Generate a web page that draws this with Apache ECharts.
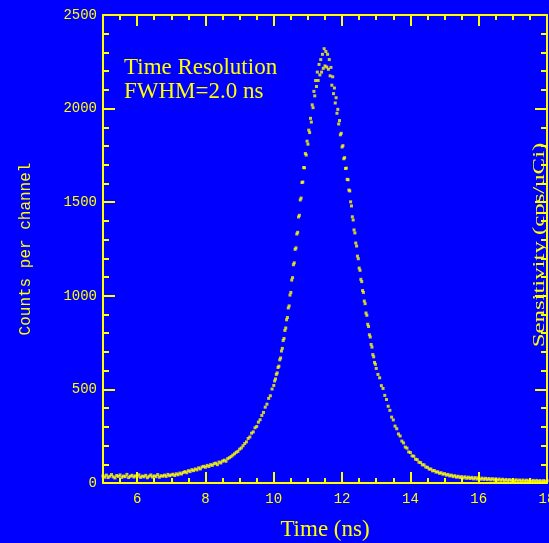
<!DOCTYPE html>
<html>
<head>
<meta charset="utf-8">
<script src="https://cdn.jsdelivr.net/npm/echarts@6/dist/echarts.min.js"></script>
<style>
    html, body { margin: 0; padding: 0; background: #0000ff; }
    #chart { width: 549px; height: 543px; }
</style>
</head>
<body>
<div id="chart"></div>
<script>
// counts per channel: [time (ns), counts]
var leftTail = [
    [5.00, 38], [5.05, 31], [5.10, 42], [5.15, 29], [5.20, 36], [5.25, 45], [5.30, 33], [5.35, 27], [5.40, 40], [5.45, 35],
    [5.50, 43], [5.55, 30], [5.60, 37], [5.65, 34], [5.70, 46], [5.75, 29], [5.80, 36], [5.85, 41], [5.90, 32], [5.95, 38],
    [6.00, 35], [6.05, 44], [6.10, 30], [6.15, 37], [6.20, 33], [6.25, 41], [6.30, 28], [6.35, 36], [6.40, 43], [6.45, 32],
    [6.50, 38], [6.55, 34], [6.60, 45], [6.65, 31], [6.70, 39], [6.75, 36], [6.80, 42], [6.85, 35], [6.90, 46], [6.95, 39],
    [7.00, 43], [7.05, 47], [7.10, 40], [7.15, 49], [7.20, 44], [7.25, 53], [7.30, 48], [7.35, 56], [7.40, 61], [7.45, 55],
    [7.50, 66], [7.55, 61], [7.60, 71], [7.65, 66], [7.70, 75], [7.75, 70], [7.80, 81], [7.85, 75], [7.90, 86], [7.95, 89],
    [8.00, 84], [8.05, 94], [8.10, 88], [8.15, 98], [8.20, 94], [8.25, 103], [8.30, 106], [8.35, 98], [8.40, 112], [8.45, 107],
    [8.50, 117], [8.55, 122], [8.60, 116], [8.65, 130], [8.70, 135], [8.75, 141], [8.80, 149], [8.85, 156], [8.90, 164], [8.95, 169],
    [9.00, 181], [9.05, 187], [9.10, 199], [9.15, 211], [9.20, 220], [9.25, 238], [9.30, 246], [9.35, 266], [9.40, 273], [9.45, 295],
    [9.50, 302], [9.55, 325], [9.60, 338], [9.65, 361], [9.70, 377], [9.75, 405], [9.80, 421], [9.85, 452], [9.90, 466], [9.95, 502]
];

var peak = [
    [10.000, 521], [10.025, 545], [10.050, 556], [10.075, 580], [10.100, 588], [10.125, 617], [10.150, 624], [10.175, 658],
    [10.200, 668], [10.225, 705], [10.250, 719], [10.275, 761], [10.300, 772], [10.325, 815], [10.350, 828], [10.375, 872],
    [10.400, 884], [10.425, 935], [10.450, 946], [10.475, 1004], [10.500, 1018], [10.525, 1084], [10.550, 1097], [10.575, 1166],
    [10.600, 1176], [10.625, 1248], [10.650, 1256], [10.675, 1330], [10.700, 1339], [10.725, 1421], [10.750, 1430], [10.775, 1512],
    [10.800, 1522], [10.825, 1605], [10.850, 1608], [10.875, 1685], [10.900, 1684], [10.925, 1760], [10.950, 1752], [10.975, 1826],
    [11.000, 1810], [11.025, 1885], [11.050, 1872], [11.075, 1948], [11.100, 1928], [11.125, 2020], [11.150, 2005], [11.175, 2092],
    [11.200, 2068], [11.225, 2150], [11.250, 2118], [11.275, 2195], [11.300, 2150], [11.325, 2236], [11.350, 2180], [11.375, 2262],
    [11.400, 2195], [11.425, 2290], [11.450, 2215], [11.475, 2320], [11.500, 2228], [11.525, 2305], [11.550, 2222], [11.575, 2290],
    [11.600, 2210], [11.625, 2262], [11.650, 2175], [11.675, 2220], [11.700, 2125], [11.725, 2170], [11.750, 2080], [11.775, 2110],
    [11.800, 2030], [11.825, 2058], [11.850, 1975], [11.875, 1996], [11.900, 1918], [11.925, 1936], [11.950, 1860], [11.975, 1868],
    [12.000, 1795], [12.025, 1802], [12.050, 1732], [12.075, 1738], [12.100, 1680], [12.125, 1682], [12.150, 1622], [12.175, 1620],
    [12.200, 1565], [12.225, 1560], [12.250, 1502], [12.275, 1480], [12.300, 1422], [12.325, 1405], [12.350, 1352], [12.375, 1336],
    [12.400, 1282], [12.425, 1266], [12.450, 1212], [12.475, 1198], [12.500, 1148], [12.525, 1136], [12.550, 1088], [12.575, 1076],
    [12.600, 1028], [12.625, 1018], [12.650, 972], [12.675, 958], [12.700, 908], [12.725, 896], [12.750, 848], [12.775, 836],
    [12.800, 792], [12.825, 780], [12.850, 740], [12.875, 726], [12.900, 686], [12.925, 674], [12.950, 644], [12.975, 634]
];

var rightTail = [
    [13.00, 612], [13.05, 580], [13.10, 562], [13.15, 520], [13.20, 505], [13.25, 468], [13.30, 446], [13.35, 410], [13.40, 388], [13.45, 352],
    [13.50, 337], [13.55, 304], [13.60, 290], [13.65, 262], [13.70, 251], [13.75, 224], [13.80, 214], [13.85, 192], [13.90, 186], [13.95, 166],
    [14.00, 163], [14.05, 145], [14.10, 143], [14.15, 127], [14.20, 125], [14.25, 111], [14.30, 109], [14.35, 97], [14.40, 97], [14.45, 85],
    [14.50, 84], [14.55, 74], [14.60, 75], [14.65, 65], [14.70, 67], [14.75, 58], [14.80, 60], [14.85, 52], [14.90, 55], [14.95, 47],
    [15.00, 50], [15.05, 42], [15.10, 46], [15.15, 38], [15.20, 42], [15.25, 34], [15.30, 39], [15.35, 31], [15.40, 36], [15.45, 29],
    [15.50, 34], [15.55, 27], [15.60, 33], [15.65, 25], [15.70, 31], [15.75, 24], [15.80, 30], [15.85, 22], [15.90, 29], [15.95, 21],
    [16.00, 28], [16.05, 20], [16.10, 26], [16.15, 19], [16.20, 25], [16.25, 18], [16.30, 24], [16.35, 17], [16.40, 23], [16.45, 16],
    [16.50, 22], [16.55, 15], [16.60, 21], [16.65, 14], [16.70, 20], [16.75, 13], [16.80, 19], [16.85, 12], [16.90, 18], [16.95, 12],
    [17.00, 17], [17.05, 11], [17.10, 17], [17.15, 10], [17.20, 16], [17.25, 10], [17.30, 16], [17.35, 9], [17.40, 15], [17.45, 9],
    [17.50, 15], [17.55, 8], [17.60, 14], [17.65, 8], [17.70, 14], [17.75, 8], [17.80, 13], [17.85, 7], [17.90, 13], [17.95, 7],
    [18.00, 12]
];

// tick labels
var timeLabels = [6, 8, 10, 12, 14, 16, 18];
var countLabels = [0, 500, 1000, 1500, 2000, 2500];

var YELLOW = '#ffff00';

function majorTimeAxis(position, withLabels) {
    return {
        type: 'value',
        position: position,
        min: 5,
        max: 18,
        axisLine: { show: true, onZero: false, lineStyle: { color: YELLOW, width: 2 } },
        axisTick: { show: true, inside: true, length: 11, customValues: timeLabels, lineStyle: { color: YELLOW, width: 2 } },
        axisLabel: {
            show: withLabels,
            customValues: timeLabels,
            margin: 9,
            color: YELLOW,
            fontFamily: 'Liberation Mono',
            fontSize: 14
        },
        splitLine: { show: false }
    };
}

function minorTimeAxis(position) {
    return {
        type: 'value',
        position: position,
        min: 5,
        max: 18,
        interval: 0.5,
        axisLine: { show: false, onZero: false },
        axisTick: { show: true, inside: true, length: 5, lineStyle: { color: YELLOW, width: 2 } },
        axisLabel: { show: false },
        splitLine: { show: false }
    };
}

function countAxis(position, withLabels) {
    return {
        type: 'value',
        position: position,
        min: countLabels[0],
        max: countLabels[countLabels.length - 1],
        interval: 500,
        axisLine: { show: true, onZero: false, lineStyle: { color: YELLOW, width: 2 } },
        axisTick: { show: true, inside: true, length: 12, lineStyle: { color: YELLOW, width: 2 } },
        minorTick: { show: true, splitNumber: 5, length: 6, lineStyle: { color: YELLOW, width: 2 } },
        axisLabel: {
            show: withLabels,
            margin: 6,
            color: YELLOW,
            fontFamily: 'Liberation Mono',
            fontSize: 14,
            formatter: function (value) {
                return String(value);
            }
        },
        splitLine: { show: false }
    };
}

var bottomAxis = majorTimeAxis('bottom', true);
bottomAxis.name = 'Time (ns)';
bottomAxis.nameLocation = 'middle';
bottomAxis.nameGap = 35;
bottomAxis.nameTextStyle = { color: YELLOW, fontFamily: 'Liberation Serif', fontSize: 23 };

var leftAxis = countAxis('left', true);
leftAxis.name = 'Counts per channel';
leftAxis.nameLocation = 'middle';
leftAxis.nameRotate = 90;
leftAxis.nameGap = 69;
leftAxis.nameTextStyle = { color: YELLOW, fontFamily: 'Liberation Mono', fontSize: 16 };

var chart = echarts.init(document.getElementById('chart'), null, { renderer: 'canvas' });
var option = {
    backgroundColor: '#0000ff',
    animation: false,
    title: {
        text: 'Time Resolution\nFWHM=2.0 ns',
        left: 124,
        top: 56,
        padding: 0,
        textStyle: {
            color: YELLOW,
            fontFamily: 'Liberation Serif',
            fontSize: 23,
            fontWeight: 'normal',
            lineHeight: 24
        }
    },
    grid: {
        left: 103,
        right: 2,
        top: 15,
        bottom: 60,
        outerBoundsMode: 'none'
    },
    xAxis: [
        bottomAxis,
        minorTimeAxis('bottom'),
        majorTimeAxis('top', false),
        minorTimeAxis('top')
    ],
    yAxis: [
        leftAxis,
        countAxis('right', false)
    ],
    graphic: [
        {
            type: 'text',
            x: 540,
            y: 245,
            rotation: Math.PI / 2,
            scaleX: 1.55,
            z: 100,
            style: {
                text: 'Sensitivity (cps/uCi)',
                fill: YELLOW,
                font: '16px "Liberation Serif"',
                align: 'center',
                verticalAlign: 'middle'
            }
        }
    ],
    series: [
        {
            name: 'Counts',
            type: 'scatter',
            xAxisIndex: 0,
            yAxisIndex: 0,
            symbol: 'rect',
            symbolSize: 3,
            itemStyle: { color: YELLOW },
            data: leftTail.concat(peak, rightTail)
        }
    ]
};
chart.setOption(option);
</script>
</body>
</html>
